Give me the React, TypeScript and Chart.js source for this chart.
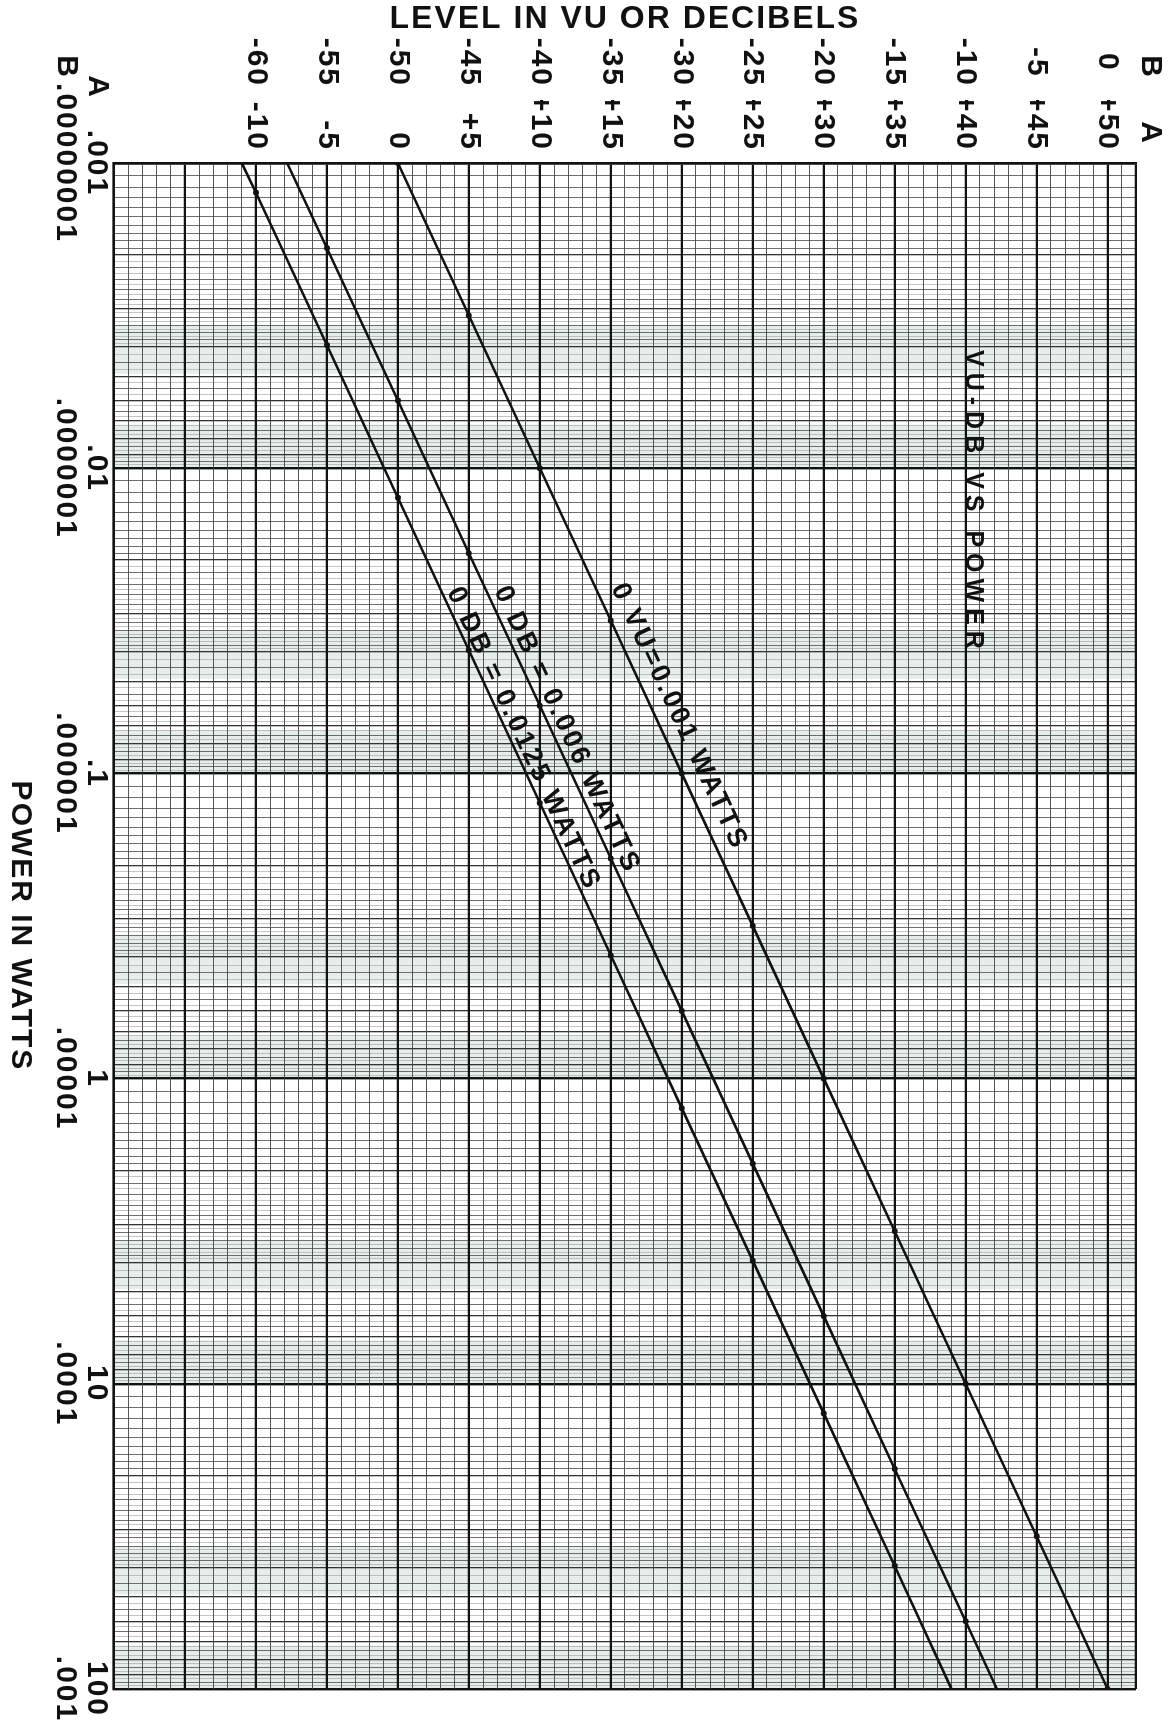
import React, { useEffect, useRef } from "react";
import { Chart, registerables } from "chart.js";

Chart.register(...registerables);

// ---------------- data ----------------
// power axis (watts), scale A and scale B labels at each decade
const powerDecades = [0.001, 0.01, 0.1, 1, 10, 100];
const powerLabelsA = [".001", ".01", ".1", "1", "10", "100"];
const powerLabelsB = [".00000001", ".0000001", ".000001", ".00001", ".0001", ".001"];

// level axis (VU / dB), scale A and scale B
const levelTicksA = [-10, -5, 0, 5, 10, 15, 20, 25, 30, 35, 40, 45, 50];
const levelLabelsA = ["-10", "-5", "0", "+5", "+10", "+15", "+20", "+25", "+30", "+35", "+40", "+45", "+50"];
const levelTicksB = [-60, -55, -50, -45, -40, -35, -30, -25, -20, -15, -10, -5, 0];
const levelLabelsB = ["-60", "-55", "-50", "-45", "-40", "-35", "-30", "-25", "-20", "-15", "-10", "-5", "0"];

// series: 0 VU = 0.001 W
const vuPower = [0.001, 0.00316, 0.01, 0.0316, 0.1, 0.316, 1, 3.16, 10, 31.6, 100];
const vuLevel = [0, 5, 10, 15, 20, 25, 30, 35, 40, 45, 50];
// series: 0 DB = 0.006 W
const db006Power = [0.001, 0.0019, 0.006, 0.019, 0.06, 0.19, 0.6, 1.9, 6, 19, 60, 100];
const db006Level = [-7.8, -5, 0, 5, 10, 15, 20, 25, 30, 35, 40, 42.2];
// series: 0 DB = 0.0125 W
const db0125Power = [0.001, 0.00125, 0.00395, 0.0125, 0.0395, 0.125, 0.395, 1.25, 3.95, 12.5, 39.5, 100];
const db0125Level = [-11, -10, -5, 0, 5, 10, 15, 20, 25, 30, 35, 39];

const seriesNames = ["0 VU=0.001 WATTS", "0 DB = 0.006 WATTS", "0 DB = 0.0125 WATTS"];
const chartTitle = "VU-DB VS POWER";
const levelAxisTitle = "LEVEL IN VU OR DECIBELS";
const powerAxisTitle = "POWER IN WATTS";
const scaleNames = ["A", "B"];

// axis ranges
const POWER_MIN = 0.001;
const POWER_MAX = 100;
const LEVEL_A_MIN = -20;
const LEVEL_A_MAX = 52;
const B_OFFSET = -50;

// ---------------- styling / layout ----------------
const FONT = "'Liberation Sans', Arial, sans-serif";
const W = 1733;
const H = 1173;
const INK = "#111";

// log paper rulings within one decade: [from, to, step]
const paperSubdivisions = [
  [1, 2, 0.1],
  [2, 4, 0.1],
  [4, 10, 0.25],
];
// shaded bands within each decade (mantissa ranges)
const bandFrom = [3.4, 7.2];
const bandTo = [4.9, 10];

const powerGrid: number[] = [];
for (let d = 0; d < powerDecades.length - 1; d++) {
  for (const [a, b, s] of paperSubdivisions) {
    const n = Math.round((b - a) / s);
    for (let k = 0; k < n; k++) powerGrid.push(+(powerDecades[d] * (a + k * s)).toPrecision(6));
  }
}
powerGrid.push(powerDecades[powerDecades.length - 1]);

const levelGrid: number[] = [];
for (let k = 0; k <= LEVEL_A_MAX - LEVEL_A_MIN; k++) levelGrid.push(LEVEL_A_MIN + k);

function mantissa(v: number) {
  const e = Math.floor(Math.log10(v) + 1e-9);
  return Math.round((v / Math.pow(10, e)) * 1000) / 1000;
}
function isMult(m: number, s: number) {
  return Math.abs(m / s - Math.round(m / s)) < 1e-6;
}
function powerGridStyle(v: number | undefined) {
  if (v == null) return { w: 2.4, c: INK };
  const m = mantissa(v);
  if (Math.abs(m - 1) < 1e-6 || Math.abs(m - 10) < 1e-6) return { w: 2.4, c: INK };
  if (isMult(m, 1)) return { w: 1.3, c: "#333" };
  const medium = m < 2 ? isMult(m, 0.1) : m < 4 ? isMult(m, 0.2) : isMult(m, 0.5);
  if (medium) return { w: 0.85, c: "#555" };
  return { w: 0.6, c: "#a0a0a0" };
}
function levelGridStyle(v: number | undefined) {
  if (v == null) return { w: 2.4, c: INK };
  if (isMult(v, 5) || Math.abs(v - LEVEL_A_MAX) < 1e-6) return { w: 2.2, c: INK };
  return { w: 0.9, c: "#444" };
}

function makeSeries(p: number[], l: number[]) {
  return p.map((x, i) => ({ x, y: l[i] }));
}

const LABEL_START_POWER = 0.0258;
const LABEL_OFFSETS = [14, 7, 5];
const TITLE_POWER = 0.0041;
const TITLE_LEVEL = 40;

const paperPlugin = {
  id: "paper",
  beforeLayout(chart: any) {
    chart.ctx.letterSpacing = "2px";
  },
  beforeDraw(chart: any) {
    const { ctx, chartArea } = chart;
    const xs = chart.scales.x;
    ctx.save();
    ctx.fillStyle = "#fff";
    ctx.fillRect(0, 0, chart.width, chart.height);
    ctx.fillStyle = "rgba(170, 200, 188, 0.30)";
    for (let d = 0; d < powerDecades.length - 1; d++) {
      for (let b = 0; b < bandFrom.length; b++) {
        const x0 = xs.getPixelForValue(powerDecades[d] * bandFrom[b]);
        const x1 = xs.getPixelForValue(powerDecades[d] * bandTo[b]);
        ctx.fillRect(x0, chartArea.top, x1 - x0, chartArea.bottom - chartArea.top);
      }
    }
    ctx.restore();
    ctx.letterSpacing = "2px";
  },
  afterDraw(chart: any) {
    const { ctx, chartArea } = chart;
    const xs = chart.scales.x;
    const ya = chart.scales.yA;
    ctx.save();
    ctx.fillStyle = INK;

    // scale headers
    ctx.font = `bold 30px ${FONT}`;
    ctx.letterSpacing = "0px";
    ctx.textAlign = "center";
    ctx.textBaseline = "middle";
    ctx.fillText(scaleNames[1], chartArea.left - 97, chartArea.top - 14);
    ctx.fillText(scaleNames[0], chartArea.left - 31, chartArea.top - 14);
    ctx.fillText(scaleNames[0], chartArea.left - 77, chartArea.bottom + 17);
    ctx.fillText(scaleNames[1], chartArea.left - 97, chartArea.bottom + 48);

    // line labels along the lines
    chart.data.datasets.forEach((ds: any, i: number) => {
      const pts = chart.getDatasetMeta(i).data;
      const a = pts[0];
      const b = pts[pts.length - 1];
      const ang = Math.atan2(b.y - a.y, b.x - a.x);
      const u0 = xs.getPixelForValue(LABEL_START_POWER);
      const t = (u0 - a.x) / (b.x - a.x);
      const v0 = a.y + t * (b.y - a.y);
      ctx.save();
      ctx.translate(u0, v0);
      ctx.rotate(ang);
      ctx.font = `bold 27px ${FONT}`;
      ctx.letterSpacing = "3px";
      ctx.textAlign = "left";
      ctx.textBaseline = "alphabetic";
      ctx.fillText(seriesNames[i], 0, -LABEL_OFFSETS[i]);
      ctx.restore();
    });

    // chart title inside plot
    ctx.font = `bold 25px ${FONT}`;
    ctx.letterSpacing = "6px";
    ctx.textAlign = "left";
    ctx.textBaseline = "alphabetic";
    ctx.fillText(chartTitle, xs.getPixelForValue(TITLE_POWER), ya.getPixelForValue(TITLE_LEVEL));
    ctx.restore();
  },
};

function buildConfig(): any {
  const dsStyle = {
    showLine: true,
    borderColor: INK,
    backgroundColor: INK,
    borderWidth: 2.6,
    pointBackgroundColor: INK,
    pointBorderWidth: 0,
    pointRadius: (c: any) => {
      const y = c.raw && c.raw.y;
      return y != null && isMult(y, 5) ? 3 : 0;
    },
    tension: 0,
    xAxisID: "x",
    yAxisID: "yA",
  };
  return {
    type: "scatter",
    data: {
      datasets: [
        { label: seriesNames[0], data: makeSeries(vuPower, vuLevel), ...dsStyle },
        { label: seriesNames[1], data: makeSeries(db006Power, db006Level), ...dsStyle },
        { label: seriesNames[2], data: makeSeries(db0125Power, db0125Level), ...dsStyle },
      ],
    },
    options: {
      responsive: false,
      maintainAspectRatio: false,
      devicePixelRatio: 1,
      animation: false,
      layout: { padding: { top: 37, right: 44, left: 0, bottom: 0 } },
      plugins: { legend: { display: false }, tooltip: { enabled: false }, title: { display: false } },
      scales: {
        x: {
          type: "logarithmic",
          position: "bottom",
          min: POWER_MIN,
          max: POWER_MAX,
          afterBuildTicks: (s: any) => {
            s.ticks = powerGrid.map((v) => ({ value: v }));
          },
          afterFit: (s: any) => {
            s.height = 114;
          },
          grid: {
            drawTicks: false,
            tickLength: 0,
            color: (c: any) => powerGridStyle(c.tick && c.tick.value).c,
            lineWidth: (c: any) => powerGridStyle(c.tick && c.tick.value).w,
          },
          border: { display: true, color: INK, width: 2.6 },
          ticks: {
            autoSkip: false,
            maxRotation: 0,
            minRotation: 0,
            padding: 2,
            color: INK,
            font: { family: FONT, size: 30, weight: "bold", lineHeight: 1.04 },
            callback: (value: number) => {
              const i = powerDecades.findIndex((d) => Math.abs(d - value) / d < 1e-6);
              return i >= 0 ? [powerLabelsA[i], powerLabelsB[i]] : "";
            },
          },
          title: {
            display: true,
            text: powerAxisTitle,
            color: INK,
            font: { family: FONT, size: 30, weight: "bold", lineHeight: 1.2 },
            padding: { top: 0, bottom: 2 },
          },
        },
        yA: {
          type: "linear",
          position: "left",
          weight: 0,
          min: LEVEL_A_MIN,
          max: LEVEL_A_MAX,
          afterBuildTicks: (s: any) => {
            s.ticks = levelGrid.map((v) => ({ value: v }));
          },
          afterFit: (s: any) => {
            s.width = 63;
          },
          grid: {
            drawTicks: false,
            tickLength: 0,
            color: (c: any) => levelGridStyle(c.tick && c.tick.value).c,
            lineWidth: (c: any) => levelGridStyle(c.tick && c.tick.value).w,
          },
          border: { display: true, color: INK, width: 2.6 },
          ticks: {
            autoSkip: false,
            padding: 12,
            color: INK,
            font: { family: FONT, size: 30, weight: "bold" },
            callback: (value: number) => {
              const i = levelTicksA.findIndex((d) => Math.abs(d - value) < 1e-6);
              return i >= 0 ? levelLabelsA[i] : "";
            },
          },
        },
        yB: {
          type: "linear",
          position: "left",
          weight: 1,
          min: LEVEL_A_MIN + B_OFFSET,
          max: LEVEL_A_MAX + B_OFFSET,
          afterBuildTicks: (s: any) => {
            s.ticks = levelTicksB.map((v) => ({ value: v }));
          },
          afterFit: (s: any) => {
            s.width = 100;
          },
          grid: { display: false, drawTicks: false, tickLength: 0 },
          border: { display: false },
          ticks: {
            autoSkip: false,
            padding: 13,
            crossAlign: "center",
            color: INK,
            font: { family: FONT, size: 30, weight: "bold" },
            callback: (value: number) => {
              const i = levelTicksB.findIndex((d) => Math.abs(d - value) < 1e-6);
              return i >= 0 ? levelLabelsB[i] : "";
            },
          },
          title: {
            display: true,
            text: levelAxisTitle,
            color: INK,
            font: { family: FONT, size: 32, weight: "bold", lineHeight: 1.2 },
            padding: { top: 0, bottom: 0 },
          },
        },
      },
    },
    plugins: [paperPlugin],
  };
}

export default function App() {
  const ref = useRef<HTMLCanvasElement | null>(null);
  useEffect(() => {
    document.body.style.margin = "0";
    document.body.style.overflow = "hidden";
    document.documentElement.style.overflow = "hidden";
    const chart = new Chart(ref.current as HTMLCanvasElement, buildConfig());
    return () => chart.destroy();
  }, []);
  return (
    <div
      style={{
        position: "absolute",
        left: 0,
        top: 0,
        width: W,
        height: H,
        background: "#fff",
        transformOrigin: "0 0",
        transform: `translateX(${H}px) rotate(90deg)`,
      }}
    >
      <canvas ref={ref} width={W} height={H} style={{ display: "block", width: W, height: H }} />
    </div>
  );
}
